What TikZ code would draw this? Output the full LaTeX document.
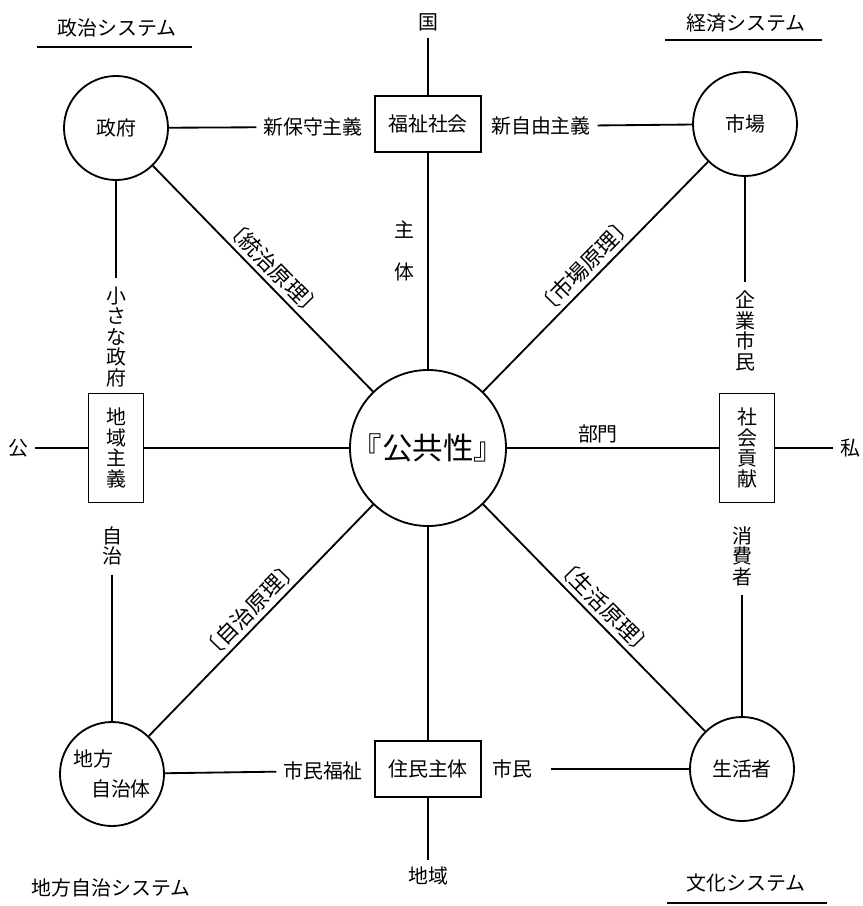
\documentclass[tikz,border=0pt]{standalone}
\usepackage{fontspec}
\setmainfont{Noto Sans CJK JP}
\begin{document}
\begin{tikzpicture}[x=0.3mm,y=-0.3mm,line width=0.55mm,
    font=\fontsize{17}{17.5}\selectfont,
    circ/.style={circle,draw,minimum size=31.2mm,inner sep=0pt,align=left},
    hbox/.style={draw,minimum width=31.8mm,minimum height=16.8mm,inner sep=0pt},
    vbox/.style={draw,minimum width=16.5mm,minimum height=32.7mm,inner sep=0pt,align=center},
    lab/.style={inner sep=1.8mm},
    vlab/.style={inner sep=2.5mm,align=center},
    rule/.style={sloped,above,inner sep=1.2mm,font=\fontsize{18.5}{19}\selectfont}]
    \useasboundingbox (0,0) rectangle (863,906);
    %systemes
    \node (polsys) at (117,28) {政治システム};
    \node (ecosys) at (746,23) {経済システム};
    \node (locsys) at (111,888) {地方自治システム};
    \node (culsys) at (746,883) {文化システム};
    \draw (37,47) -- (192,47);
    \draw (665,40) -- (822,40);
    \draw (667,903) -- (827,903);
    %cercles
    \node[circ] (gov) at (116,128) {政府};
    \node[circ] (mkt) at (745,124) {市場};
    \node[circ] (loc) at (112,774) {地方\\[3mm]\hspace*{5.4mm}自治体};
    \node[circ] (life) at (742,769) {生活者};
    \node[circ,minimum size=46.8mm,font=\fontsize{26}{27}\selectfont] (pub) at (428,448) {『公共性』};
    %boites
    \node[hbox] (wel) at (428,124) {福祉社会};
    \node[hbox] (res) at (428,769) {住民主体};
    \node[vbox] (reg) at (116,448) {地\\域\\主\\義};
    \node[vbox] (csr) at (747,448) {社\\会\\貢\\献};
    %textes
    \node[lab] (ku) at (428,22) {国};
    \node[lab] (chiiki) at (428,876) {地域};
    \node[lab] (ko) at (18,448) {公};
    \node[lab] (shi) at (850,448) {私};
    \node[lab] (neocon) at (313,127) {新保守主義};
    \node[lab] (neolib) at (541,126) {新自由主義};
    \node[lab] (welf) at (323,771) {市民福祉};
    \node[lab] (citizen) at (512,769) {市民};
    \node[vlab] (small) at (116,337) {小\\さ\\な\\政\\府};
    \node[vlab] (jichi) at (112,546) {自\\治};
    \node[vlab] (corp) at (745,331) {企\\業\\市\\民};
    \node[vlab] (cons) at (742,556) {消\\費\\者};
    \node[vlab] (actor) at (404,251) {主\\[6.6mm]体};
    %axes
    \draw (ku) -- (wel);
    \draw (wel) -- (pub);
    \draw (pub) -- (res);
    \draw (res) -- (chiiki);
    \draw (ko) -- (reg);
    \draw (reg) -- (pub);
    \draw (pub) -- node[above,pos=0.43] {部門} (csr);
    \draw (csr) -- (shi);
    %cotes
    \draw (gov) -- (neocon);
    \draw (neolib) -- (mkt);
    \draw (loc) -- (welf);
    \draw[shorten <=3.5mm] (citizen) -- (life);
    \draw (gov) -- (small);
    \draw (jichi) -- (loc);
    \draw (mkt) -- (corp);
    \draw (cons) -- (life);
    %principes
    \draw (gov) -- node[rule] {〔統治原理〕} (pub);
    \draw (pub) -- node[rule] {〔市場原理〕} (mkt);
    \draw (loc) -- node[rule] {〔自治原理〕} (pub);
    \draw (pub) -- node[rule] {〔生活原理〕} (life);
\end{tikzpicture}
\end{document}
